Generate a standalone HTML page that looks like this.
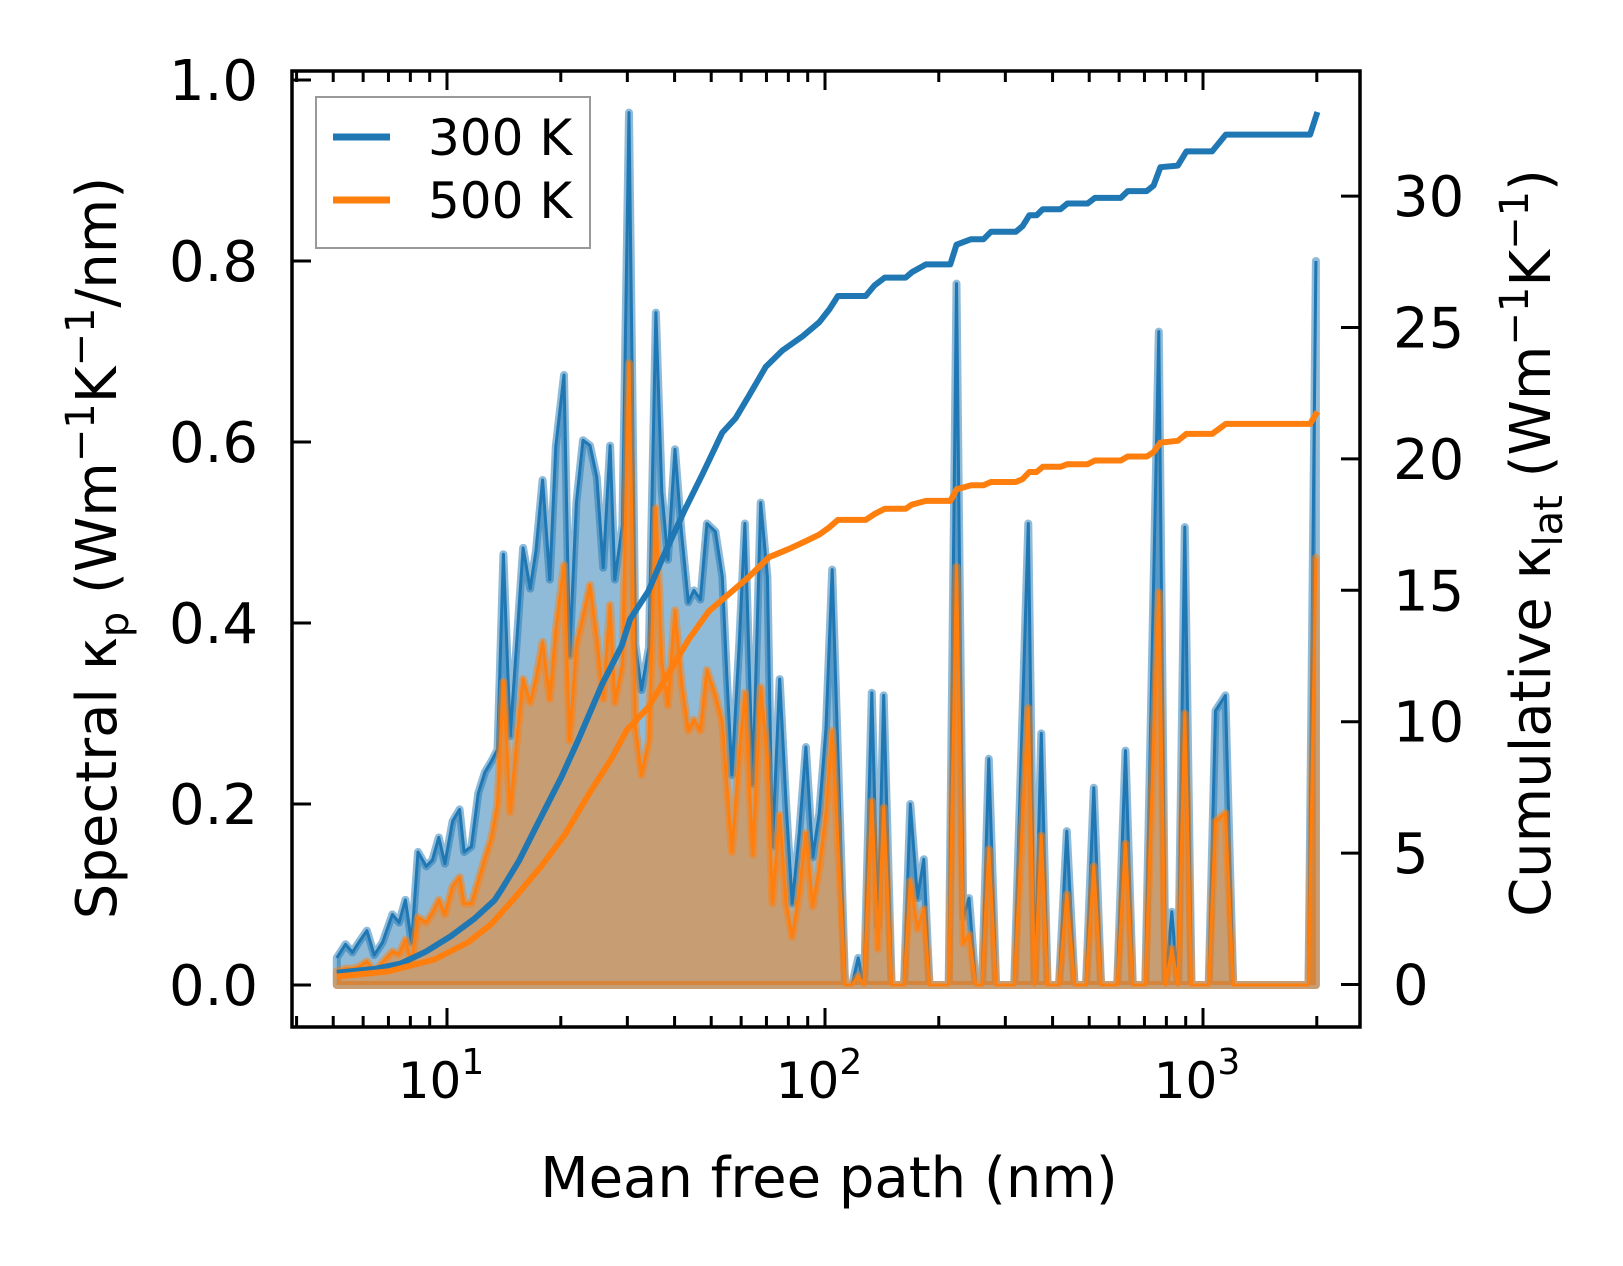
<!DOCTYPE html>
<html><head><meta charset="utf-8"><style>
html,body{margin:0;padding:0;background:#fff;}
svg{display:block;font-family:"DejaVu Sans","Liberation Sans",sans-serif;}
</style></head><body>
<svg id="chart" width="1623" height="1266" viewBox="0 0 1623 1266" xmlns="http://www.w3.org/2000/svg">
<rect x="0" y="0" width="1623" height="1266" fill="#fff"/>
<g id="plot"></g>
<g id="axes"></g>
</svg>
<script>
// ---- data ----
const mfp = [5.11,5.39,5.62,5.84,6.14,6.42,6.75,7.17,7.47,7.76,8.06,8.38,8.81,9.15,9.51,9.87,10.35,10.8,11.1,11.6,12.1,12.6,13.1,13.6,14.1,14.7,15.3,15.9,16.6,17.2,17.9,18.7,19.4,20.4,21.1,22.0,22.9,23.9,24.9,25.9,27.0,27.8,29.1,30.3,31.5,32.7,34.2,35.7,37.0,38.4,40.1,41.7,43.5,45.0,46.8,48.7,51.3,53.5,55.0,56.7,59.3,61.4,64.4,67.6,70.4,72.6,75.9,78.9,81.9,85.5,89.0,92.8,96.6,100.6,104.5,113,117.9,122.4,126.8,133,138.1,143,150,161.8,168.1,175.7,182.5,189,212.5,222.8,232.2,240.4,250.6,260.3,271.3,283.5,316.7,345,358.4,373.4,388,415.9,436.2,457.4,490.3,514.1,537.5,593,623.7,652.2,703.7,763.8,795.9,826.8,858.9,895.1,932.6,1035.4,1079,1146,1202,1902,1989];
const spec300 = [.03,.045,.036,.047,.06,.033,.047,.078,.069,.094,.047,.147,.131,.138,.163,.134,.181,.194,.147,.153,.212,.235,.247,.26,.476,.275,.38,.483,.438,.48,.558,.448,.595,.674,.364,.533,.602,.596,.561,.461,.596,.448,.508,.964,.376,.326,.373,.743,.545,.47,.592,.501,.423,.436,.426,.51,.501,.451,.34,.232,.376,.51,.222,.533,.451,.153,.338,.2,.09,.168,.263,.141,.19,.284,.459,0,0,.03,0,.323,.065,.32,0,0,.2,.096,.139,0,0,.775,.075,.096,0,0,.25,0,0,.51,0,.278,0,0,.17,0,0,.218,0,0,.259,0,0,.722,0,.081,0,.506,0,0,.303,.32,0,0,.80];
const spec500 = [.015,.018,.018,.02,.026,.015,.025,.037,.034,.05,.025,.075,.069,.08,.094,.078,.109,.119,.09,.09,.115,.14,.162,.2,.335,.191,.27,.338,.312,.338,.379,.316,.392,.464,.27,.376,.407,.442,.383,.316,.42,.312,.354,.687,.285,.232,.27,.527,.357,.309,.414,.335,.281,.293,.281,.348,.32,.29,.22,.147,.253,.323,.144,.329,.25,.09,.188,.09,.053,.102,.168,.087,.13,.19,.281,0,0,.01,0,.203,.04,.196,0,0,.115,.062,.084,0,0,.462,.046,.056,0,0,.15,0,0,.306,0,.165,0,0,.1,0,0,.131,0,0,.156,0,0,.434,0,.04,0,.3,0,0,.181,.19,0,0,.472];
const cum300Mfp = [5.11,6.5,7.55,8.8,10.26,11.8,13.35,13.92,15.5,17.07,20.09,22.24,25.67,29.0,30.5,34.1,37.0,42.7,47.3,53.5,58.0,62.9,69.7,77.2,87.3,96.6,102.8,108.2,128.1,135.1,143.9,163.4,169.7,185,214.5,222.8,243.5,262.7,274.7,319.8,333.3,347.2,362.9,376.9,419.9,437.8,495,517.6,606.2,632.2,710.3,740.3,771.4,857.5,903.6,1057,1149,1920,2008];
const cum300 = [.45,.6,.8,1.25,1.85,2.5,3.2,3.6,4.7,5.9,7.9,9.3,11.4,12.9,13.9,14.97,16.16,18.1,19.39,21.0,21.55,22.4,23.5,24.13,24.67,25.2,25.7,26.2,26.2,26.6,26.9,26.9,27.1,27.4,27.4,28.15,28.36,28.36,28.64,28.64,28.86,29.27,29.27,29.5,29.5,29.72,29.72,29.93,29.93,30.19,30.19,30.4,31.1,31.16,31.7,31.7,32.34,32.34,33.2];
const cum500Mfp = [5.11,7.0,9.26,11.35,13.1,15.1,17.77,20.5,23.65,27.28,29.9,34.1,38.6,43.6,49.3,55.7,62.9,71.1,80.4,88.7,96.6,102.8,108.2,128.1,135.1,143.9,163.4,169.7,185,214.5,222.8,243.5,262.7,274.7,319.8,333.3,347.2,362.9,376.9,419.9,437.8,495,517.6,606.2,632.2,710.3,740.3,771.4,857.5,903.6,1057,1149,1920,2008];
const cum500 = [.3,.5,.95,1.6,2.3,3.3,4.51,5.7,7.21,8.61,9.68,10.55,11.84,13.13,14.21,14.86,15.51,16.26,16.58,16.86,17.12,17.4,17.68,17.68,17.9,18.1,18.1,18.26,18.4,18.4,18.84,19.0,19.0,19.12,19.12,19.23,19.5,19.5,19.7,19.7,19.8,19.8,19.94,19.94,20.09,20.09,20.26,20.62,20.69,20.95,20.95,21.33,21.33,21.8];
const leftTicks = [0,0.2,0.4,0.6,0.8,1.0];
const leftTickLabels = ["0.0","0.2","0.4","0.6","0.8","1.0"];
const rightTicks = [0,5,10,15,20,25,30];
const xMajor = [10,100,1000];
const xMajorExp = ["1","2","3"];

// ---- geometry ----
const L=292, R=1360, T=71, B=1027;
const X10=447, DEC=378;
function xs(v){return X10+(Math.log10(v)-1)*DEC;}
function yl(v){return 985-v*905;}
function yr(v){return 984.5-v*26.28;}
const NS="http://www.w3.org/2000/svg";
function mk(tag,attrs,parent){const e=document.createElementNS(NS,tag);for(const k in attrs)e.setAttribute(k,attrs[k]);parent.appendChild(e);return e;}
const plot=document.getElementById('plot'), axes=document.getElementById('axes');

function specPts(vals){return mfp.map((m,i)=>xs(m).toFixed(1)+','+yl(vals[i]).toFixed(1));}
function drawSpec(vals,color,name){
  const pts=specPts(vals);
  const poly=pts.join(' ')+' '+xs(mfp[mfp.length-1]).toFixed(1)+','+yl(0)+' '+xs(mfp[0]).toFixed(1)+','+yl(0);
  const f=mk('polygon',{points:poly,fill:color,'fill-opacity':0.5,stroke:color,'stroke-opacity':0.5,'stroke-width':8,'stroke-linejoin':'round'},plot);
  
  
  const l=mk('polyline',{points:pts.join(' '),fill:'none',stroke:color,'stroke-width':3,'stroke-linejoin':'round'},plot);
  
  
}
drawSpec(spec300,'#1f77b4','spectral-300k');
drawSpec(spec500,'#ff7f0e','spectral-500k');
function drawCum(xv,yv,color,name){
  const pts=xv.map((m,i)=>xs(m).toFixed(1)+','+yr(yv[i]).toFixed(1)).join(' ');
  const l=mk('polyline',{points:pts,fill:'none',stroke:color,'stroke-width':6,'stroke-linejoin':'round'},plot);
  
  
}
drawCum(cum300Mfp,cum300,'#1f77b4','cumulative-300k');
drawCum(cum500Mfp,cum500,'#ff7f0e','cumulative-500k');

// frame
const fr=mk('rect',{x:L,y:T,width:R-L,height:B-T,fill:'none',stroke:'#000','stroke-width':3.5},axes);



leftTicks.forEach((v,i)=>{
  const y=yl(v);
  const t=mk('line',{x1:L,x2:L+19,y1:y,y2:y,stroke:'#000','stroke-width':3},axes);
  
  
  const tx=mk('text',{x:258,y:y+20,'text-anchor':'end','font-size':56,fill:'#000'},axes);
  tx.textContent=leftTickLabels[i];
  
  
});
rightTicks.forEach(v=>{
  const y=yr(v);
  const t=mk('line',{x1:R-19,x2:R,y1:y,y2:y,stroke:'#000','stroke-width':3},axes);
  
  
  const tx=mk('text',{x:1393,y:y+20,'text-anchor':'start','font-size':56,fill:'#000'},axes);
  tx.textContent=String(v);
  
  
});
for(let d=0;d<4;d++){
  for(let k=1;k<10;k++){
    const v=k*Math.pow(10,d);
    const x=xs(v);
    if(x<L+1||x>R-1)continue;
    const len=(k===1)?19:11;
    const a=mk('line',{x1:x,x2:x,y1:B,y2:B-len,stroke:'#000','stroke-width':3},axes);
    
    
    const b=mk('line',{x1:x,x2:x,y1:T,y2:T+len,stroke:'#000','stroke-width':3},axes);
    
    
  }
}
xMajor.forEach((v,i)=>{
  const tx=mk('text',{x:xs(v)-6,y:1098,'text-anchor':'middle','font-size':50,fill:'#000'},axes);
  
  
  tx.appendChild(document.createTextNode('10'));
  const s=mk('tspan',{dy:-24,'font-size':36},tx);
  s.textContent=xMajorExp[i];
});
</script>
<svg style="position:absolute;left:0;top:0" width="1623" height="1266" viewBox="0 0 1623 1266" xmlns="http://www.w3.org/2000/svg" font-family="DejaVu Sans, Liberation Sans, sans-serif">
<text x="829" y="1197" text-anchor="middle" font-size="56">Mean free path (nm)</text>
<text transform="translate(116,548) rotate(-90)" text-anchor="middle" font-size="56">Spectral κ<tspan dy="12" font-size="40">p</tspan><tspan dy="-12"> (Wm</tspan><tspan dy="-22" font-size="40">−1</tspan><tspan dy="22">K</tspan><tspan dy="-22" font-size="40">−1</tspan><tspan dy="22">/nm)</tspan></text>
<text transform="translate(1550,543) rotate(-90)" text-anchor="middle" font-size="56">Cumulative κ<tspan dy="12" font-size="40">lat</tspan><tspan dy="-12"> (Wm</tspan><tspan dy="-22" font-size="40">−1</tspan><tspan dy="22">K</tspan><tspan dy="-22" font-size="40">−1</tspan><tspan dy="22">)</tspan></text>
<g>
<rect x="316" y="97" width="274" height="151" fill="#fff" fill-opacity="0.8" stroke="#999" stroke-width="2"/>
<line x1="333" x2="390" y1="137" y2="137" stroke="#1f77b4" stroke-width="7"/>
<text x="428" y="155" font-size="50">300 K</text>
<line x1="333" x2="390" y1="200" y2="200" stroke="#ff7f0e" stroke-width="7"/>
<text x="428" y="218" font-size="50">500 K</text>
</g>
</svg>
</body></html>
